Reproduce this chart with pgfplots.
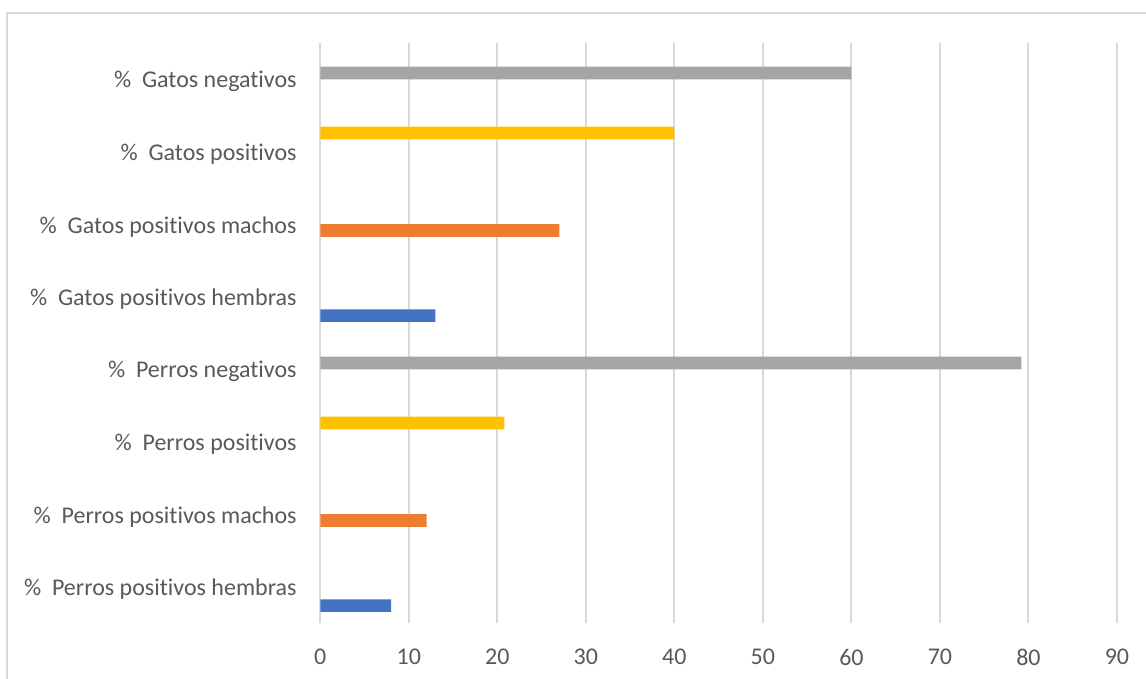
\documentclass[border=0pt]{standalone}
\usepackage{pgfplots}
\pgfplotsset{compat=1.18}
\usepackage{fontspec}
\setmainfont{Carlito}[Ligatures={NoCommon}]
\definecolor{sblue}{HTML}{4472C4}
\definecolor{sorange}{HTML}{ED7D31}
\definecolor{syellow}{HTML}{FFC000}
\definecolor{sgray}{HTML}{A5A5A5}
\definecolor{gridc}{HTML}{D9D9D9}
\definecolor{txt}{HTML}{595959}
\begin{document}
\begin{tikzpicture}
\path[use as bounding box] (0pt,0pt) rectangle (573pt,-339.5pt);
\draw[color=gridc, line width=0.75pt] (3.5pt,-345pt) -- (3.5pt,-6.5pt) -- (580pt,-6.5pt);
\begin{axis}[
  at={(160.15pt,-311.5pt)}, anchor=south west,
  scale only axis, width=398.35pt, height=290pt,
  xmin=0, xmax=90, ymin=-0.5, ymax=7.5,
  xtick={0,10,...,90}, ytick={0,...,7},
  yticklabels={{\%~~Perros positivos hembras},{\%~~Perros positivos machos},{\%~~Perros positivos\hspace{0.23em}},{\%~~Perros negativos},{\%~~Gatos positivos hembras},{\%~~Gatos positivos machos},{\%~~Gatos positivos\hspace{0.23em}},{\%~~Gatos negativos}},
  axis line style={draw=none},
  major tick length=0pt,
  xmajorgrids, grid style={gridc, line width=1pt},
  xbar, bar shift=0pt, bar width=0.175,
  ticklabel style={font=\fontsize{12}{14}\selectfont, text=txt},
  xticklabel style={anchor=center, yshift=-17pt},
  yticklabel style={anchor=east, inner sep=0pt, xshift=-11.65pt, yshift=-1.2pt},
  /pgf/number format/assume math mode=true,
  clip=false,
]
\addplot[fill=sblue, draw=none] coordinates {(13,3.74) (8,-0.26)};
\addplot[fill=sorange, draw=none] coordinates {(27,4.913) (12,0.913)};
\addplot[fill=sgray, draw=none] coordinates {(60,7.087) (79.2,3.087)};
\addplot[fill=syellow, draw=none] coordinates {(40,6.26) (20.8,2.26)};
\end{axis}
\end{tikzpicture}
\end{document}
